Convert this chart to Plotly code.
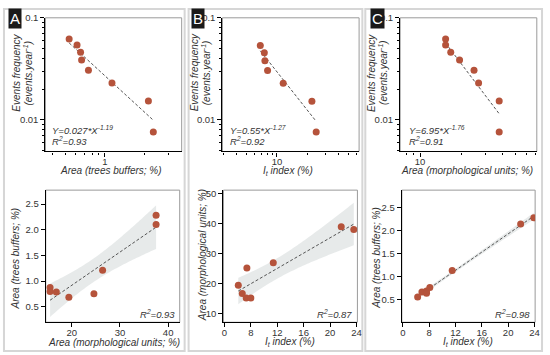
import numpy as np
import plotly.graph_objects as go

W, H = 550, 355

# ---------------- data ----------------
events_freq = [0.062, 0.054, 0.046, 0.0386, 0.0307, 0.023, 0.0153, 0.0076]
trees_buffers_top = [0.536, 0.615, 0.654, 0.666, 0.75, 1.13, 2.13, 2.32]

it_index_top = [6.88, 7.53, 7.63, 8.1, 11.5, 21.9, 24.1]
events_freq_b = [0.0536, 0.0455, 0.038, 0.0305, 0.0228, 0.0152, 0.0076]

morph_units_top = [15.4, 15.4, 16.8, 19.5, 24.9, 26.9, 38.1, 38.1]

# bottom A: morphological units vs trees buffers
morph_a = [15.5, 15.5, 16.8, 19.4, 24.6, 26.4, 37.5, 37.5]
trees_a = [0.877, 0.80, 0.79, 0.685, 0.755, 1.21, 2.10, 2.28]
# bottom B: It index vs morphological units
it_b = [6.1, 6.7, 7.4, 7.3, 8.0, 11.4, 21.7, 23.6]
morph_b = [19.4, 16.6, 25.1, 15.1, 15.1, 26.9, 38.9, 38.0]
# bottom C: It index vs trees buffers
it_c = [6.25, 6.9, 7.6, 7.6, 8.1, 11.5, 21.9, 23.9]
trees_c = [0.55, 0.66, 0.68, 0.63, 0.76, 1.13, 2.14, 2.28]

# power-law fits shown in the panels
fit_a = (0.027, -1.19)
fit_b = (0.55, -1.27)
fit_c = (6.95, -1.76)
eq_a, r2_a = "Y=0.027*X<sup>-1.19</sup>", "0.93"
eq_b, r2_b = "Y=0.55*X<sup>-1.27</sup>", "0.92"
eq_c, r2_c = "Y=6.95*X<sup>-1.76</sup>", "0.91"
r2_bot = ["0.93", "0.87", "0.98"]

bottom_it_ticks = [4, 8, 12, 16, 20, 24]
bottom_it_text = ["0", "8", "12", "16", "20", "24"]

# ---------------- styling ----------------
FONT = "Liberation Sans"
MARK = "#B5533B"
LINE = "#555555"
BAND = "rgba(215,220,220,0.6)"
TXT = "#333333"
TICKSZ = 9.5


def px(x):
    return x / W


def py(y):
    return 1 - y / H


fig = go.Figure()

# panel frames
for (x0, x1) in [(2, 185), (189, 365), (368, 547)]:
    fig.add_shape(type="rect", xref="paper", yref="paper",
                  x0=px(x0), x1=px(x1), y0=py(351), y1=py(3),
                  line=dict(color="#D6D6D6", width=2), layer="below")

# axes domains (pixels)
top_x = [(44, 182), (223.3, 361.7), (403.3, 541.7)]
bot_x = [(44.3, 180), (224.3, 360), (405, 540)]
top_y = (12, 148)
bot_y = (187.3, 321.7)

layout = dict(width=W, height=H, margin=dict(l=0, r=0, t=0, b=0),
              plot_bgcolor="white", paper_bgcolor="white", showlegend=False,
              font=dict(family=FONT, size=10, color=TXT))


def axis_common(log=False, xaxis=False):
    d = dict(showgrid=False, zeroline=False, showline=True, linecolor="black",
             linewidth=1.3, ticks="outside", ticklen=4, tickwidth=1,
             tickcolor="black", tickfont=dict(size=TICKSZ, color=TXT, family=FONT),
             mirror=False)
    if xaxis:
        d["ticklabelstandoff"] = -3
    if log:
        d["type"] = "log"
    return d


yminor_top = [0.005, 0.006, 0.007, 0.008, 0.009, 0.02, 0.03, 0.04, 0.05,
              0.06, 0.07, 0.08, 0.09]
xminors = [[0.4, 0.5, 0.6, 0.7, 0.8, 0.9, 2, 3],
           [3, 4, 5, 6, 7, 8, 9, 20, 30, 40, 50, 60],
           [8, 9, 20, 30, 40, 50, 60, 70]]
xmajors = [[1], [10], [10]]
xranges_top = [[-0.45, 0.58], [0.469, 1.80], [0.854, 1.857]]

for i in range(3):
    n = i + 1
    xa = axis_common(True, True)
    xa.update(domain=[px(top_x[i][0]), px(top_x[i][1])], range=xranges_top[i],
              tickvals=xmajors[i], ticktext=[str(v) for v in xmajors[i]],
              anchor="y%d" % n if n > 1 else "y",
              minor=dict(tickvals=xminors[i], ticks="outside", ticklen=2.5,
                         tickcolor="black", tickwidth=1, showgrid=False))
    ya = axis_common(True)
    ya.update(domain=[py(top_y[1]), py(top_y[0])], range=[-2.31, -1.0],
              tickvals=[0.01, 0.1], ticktext=["0.01", "0.1"],
              anchor="x%d" % n if n > 1 else "x",
              minor=dict(tickvals=yminor_top, ticks="outside", ticklen=2.5,
                         tickcolor="black", tickwidth=1, showgrid=False))
    layout["xaxis" if n == 1 else "xaxis%d" % n] = xa
    layout["yaxis" if n == 1 else "yaxis%d" % n] = ya

bot_xranges = [[14.6, 42.4], [3.85, 24.15], [3.85, 24.1]]
bot_yranges = [[0.2, 2.77], [7.05, 51.1], [0.0, 2.88]]
bot_xticks = [([20, 30, 40], ["20", "30", "40"]),
              (bottom_it_ticks, bottom_it_text),
              (bottom_it_ticks, bottom_it_text)]
bot_yticks = [([0.5, 1.0, 1.5, 2.0, 2.5], ["0.5", "1.0", "1.5", "2.0", "2.5"]),
              ([10, 20, 30, 40, 50], ["10", "20", "30", "40", "50"]),
              ([0.5, 1.0, 1.5, 2.0, 2.5], ["0.5", "1.0", "1.5", "2.0", "2.5"])]
for i in range(3):
    n = i + 4
    xa = axis_common(False, True)
    xa.update(domain=[px(bot_x[i][0]), px(bot_x[i][1])], range=bot_xranges[i],
              tickvals=bot_xticks[i][0], ticktext=bot_xticks[i][1],
              anchor="y%d" % n)
    ya = axis_common()
    ya.update(domain=[py(bot_y[1]), py(bot_y[0])], range=bot_yranges[i],
              tickvals=bot_yticks[i][0], ticktext=bot_yticks[i][1],
              anchor="x%d" % n)
    layout["xaxis%d" % n] = xa
    layout["yaxis%d" % n] = ya

fig.update_layout(**layout)

# top/right thin borders
for n in range(1, 7):
    xr = "x domain" if n == 1 else "x%d domain" % n
    yr = "y domain" if n == 1 else "y%d domain" % n
    fig.add_shape(type="rect", xref=xr, yref=yr, x0=0, x1=1, y0=0, y1=1,
                  line=dict(color="#9A9A9A", width=1), layer="below")


def ref(n):
    return ("x", "y") if n == 1 else ("x%d" % n, "y%d" % n)


# ---------------- top row: power-law fits ----------------
top_sets = [(trees_buffers_top, events_freq, fit_a),
            (it_index_top, events_freq_b, fit_b),
            (morph_units_top, events_freq, fit_c)]
for i, (xs, ys, (a, b)) in enumerate(top_sets):
    xr, yr = ref(i + 1)
    xl = np.logspace(np.log10(min(xs)), np.log10(max(xs)), 30)
    fig.add_trace(go.Scatter(x=xl, y=a * xl ** b, mode="lines", xaxis=xr, yaxis=yr,
                             line=dict(color=LINE, width=1, dash="3px,2px"),
                             hoverinfo="skip"))
    fig.add_trace(go.Scatter(x=xs, y=ys, mode="markers", xaxis=xr, yaxis=yr,
                             marker=dict(color=MARK, size=7)))

# ---------------- bottom row: linear fits with 95% CI ----------------
T975_DF6 = 2.447
bot_sets = [(morph_a, trees_a), (it_b, morph_b), (it_c, trees_c)]
for i, (xs, ys) in enumerate(bot_sets):
    xr, yr = ref(i + 4)
    x = np.array(xs)
    y = np.array(ys)
    nn = len(x)
    b1, b0 = np.polyfit(x, y, 1)
    resid = y - (b0 + b1 * x)
    s = np.sqrt(np.sum(resid ** 2) / (nn - 2))
    sxx = np.sum((x - x.mean()) ** 2)
    xl = np.linspace(x.min(), x.max(), 60)
    yh = b0 + b1 * xl
    se = s * np.sqrt(1 / nn + (xl - x.mean()) ** 2 / sxx)
    t = T975_DF6 if nn == 8 else 2.571
    up = yh + t * se
    lo = yh - t * se
    fig.add_trace(go.Scatter(x=np.concatenate([xl, xl[::-1]]),
                             y=np.concatenate([up, lo[::-1]]),
                             fill="toself", fillcolor=BAND, mode="none",
                             xaxis=xr, yaxis=yr, hoverinfo="skip"))
    fig.add_trace(go.Scatter(x=xl, y=yh, mode="lines", xaxis=xr, yaxis=yr,
                             line=dict(color=LINE, width=1, dash="3px,2px"),
                             hoverinfo="skip"))
    fig.add_trace(go.Scatter(x=xs, y=ys, mode="markers", xaxis=xr, yaxis=yr,
                             marker=dict(color=MARK, size=7)))

# ---------------- annotations ----------------
ann = []


def txt(x, y, s, size=10, angle=0, xanchor="center", italic=True, color=TXT,
        bg=None, yanchor="middle"):
    d = dict(x=px(x), y=py(y), xref="paper", yref="paper",
             text="<i>%s</i>" % s if italic else s, showarrow=False,
             textangle=angle, xanchor=xanchor, yanchor=yanchor,
             font=dict(family=FONT, size=size, color=color))
    if bg:
        d.update(bgcolor=bg, borderpad=1)
    ann.append(d)


# panel letters
for (x, letter) in [(13, "A"), (199, "B"), (380, "C")]:
    txt(x, 13, letter, size=15, italic=False, color="white", bg="#1A1A1A")

# top y titles
for xo in [0, 180, 360]:
    txt(xo + 15, 68, "Events frequency", angle=-90)
    txt(xo + 26, 68, "(events.year<sup>-1</sup>)", angle=-90)

# top x titles
txt(110, 167.5, "Area (trees buffers; %)")
txt(290, 167.5, "I<sub>t</sub> index (%)")
txt(471, 167.5, "Area (morphological units; %)")

# equations
for xo, eq, r2 in [(49, eq_a, r2_a), (229, eq_b, r2_b), (410, eq_c, r2_c)]:
    txt(xo, 126, eq, size=9.5, xanchor="left")
    txt(xo, 137, "R<sup>2</sup>=%s" % r2, size=9.5, xanchor="left")

# bottom titles
txt(14, 257, "Area (trees buffers; %)", angle=-90)
txt(203, 253, "Area (morphological units; %)", angle=-90)
txt(379, 256, "Area (trees buffers; %)", angle=-90)
txt(113, 342, "Area (morphological units; %)")
txt(292, 342, "I<sub>t</sub> index (%)")
txt(472, 342, "I<sub>t</sub> index (%)")

# bottom R2
for xr_, r2 in zip([177, 357, 537], r2_bot):
    txt(xr_, 313, "R<sup>2</sup>=%s" % r2, size=9.5, xanchor="right")

fig.update_layout(annotations=ann)
fig.write_html("out.html", config={"displayModeBar": False},
               post_script="document.body.style.margin='0';"
                           "document.body.style.overflow='hidden';")
